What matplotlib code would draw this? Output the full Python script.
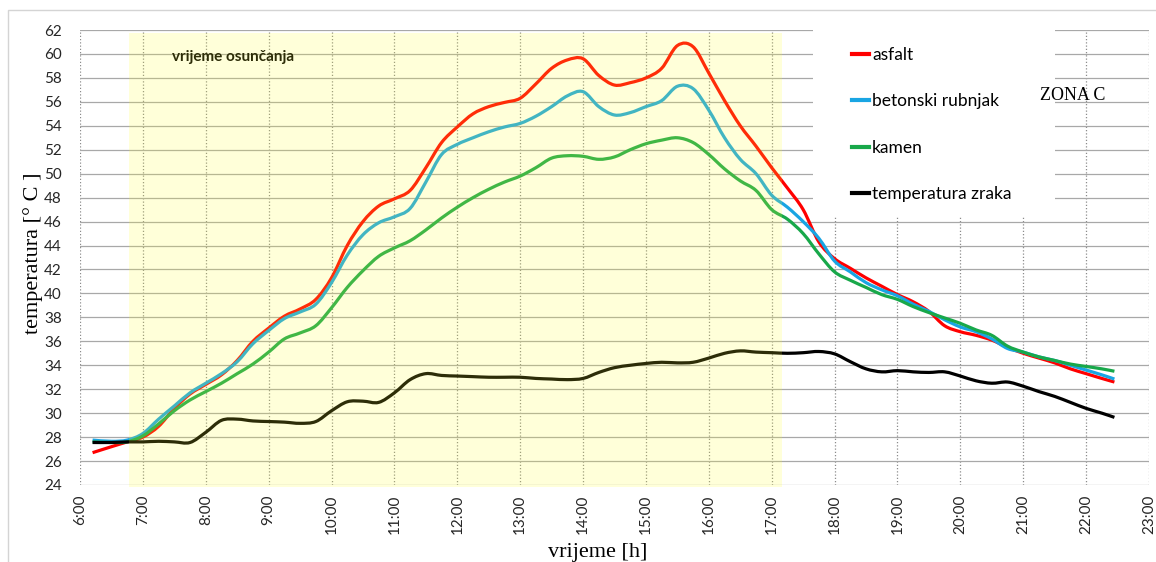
import numpy as np
import matplotlib
matplotlib.use("Agg")
import matplotlib.pyplot as plt
import matplotlib.patches as patches
from matplotlib.path import Path
from matplotlib.lines import Line2D

# time of measurement [h]
hours = [6.2, 6.5, 6.75, 7.0, 7.25, 7.5, 7.75, 8.0, 8.25, 8.5, 8.75, 9.0, 9.25, 9.5, 9.75,
         10.0, 10.25, 10.5, 10.75, 11.0, 11.25, 11.5, 11.75, 12.0, 12.25, 12.5, 12.75,
         13.0, 13.25, 13.5, 13.75, 14.0, 14.25, 14.5, 14.75, 15.0, 15.25, 15.5, 15.75,
         16.0, 16.25, 16.5, 16.75, 17.0, 17.25, 17.5, 17.75, 18.0, 18.25, 18.5, 18.75,
         19.0, 19.25, 19.5, 19.75, 20.0, 20.25, 20.5, 20.75, 21.0, 21.25, 21.5, 21.75,
         22.0, 22.25, 22.45]

asfalt = [26.7, 27.2, 27.6, 28.0, 28.9, 30.4, 31.6, 32.4, 33.2, 34.4, 36.0, 37.1, 38.1, 38.7, 39.5,
          41.3, 44.0, 46.0, 47.3, 47.9, 48.6, 50.5, 52.6, 53.9, 55.0, 55.6, 55.95,
          56.3, 57.5, 58.8, 59.5, 59.6, 58.2, 57.4, 57.6, 58.0, 58.8, 60.7, 60.6,
          58.4, 56.1, 54.0, 52.3, 50.5, 48.8, 47.0, 44.3, 42.9, 42.1, 41.3, 40.6,
          39.9, 39.3, 38.5, 37.3, 36.8, 36.5, 36.1, 35.5, 35.0, 34.6, 34.2, 33.7,
          33.3, 32.9, 32.6]

beton = [27.75, 27.65, 27.75, 28.3, 29.5, 30.6, 31.7, 32.5, 33.3, 34.3, 35.8, 36.9, 37.9, 38.45, 39.1,
         40.9, 43.2, 44.9, 45.9, 46.4, 47.1, 49.3, 51.6, 52.45, 53.0, 53.5, 53.9,
         54.2, 54.8, 55.6, 56.5, 56.85, 55.6, 54.9, 55.1, 55.6, 56.1, 57.3, 57.1,
         55.3, 53.0, 51.2, 50.0, 48.2, 47.2, 46.0, 44.6, 42.7, 41.8, 40.9, 40.3,
         39.8, 39.1, 38.5, 37.8, 37.2, 36.8, 36.2, 35.4, 35.1, 34.7, 34.4, 34.0,
         33.6, 33.2, 32.85]

kamen = [27.6, 27.55, 27.6, 28.1, 29.1, 30.2, 31.1, 31.8, 32.5, 33.3, 34.1, 35.1, 36.2, 36.7, 37.3,
         38.8, 40.5, 41.9, 43.1, 43.8, 44.4, 45.3, 46.3, 47.2, 48.0, 48.7, 49.3,
         49.8, 50.5, 51.3, 51.5, 51.45, 51.2, 51.4, 52.0, 52.5, 52.8, 53.0, 52.6,
         51.6, 50.4, 49.4, 48.6, 47.0, 46.2, 45.0, 43.3, 41.8, 41.1, 40.5, 39.9,
         39.5, 38.9, 38.4, 37.95, 37.5, 36.95, 36.5, 35.6, 35.1, 34.7, 34.4, 34.1,
         33.9, 33.7, 33.5]

zrak = [27.55, 27.55, 27.6, 27.6, 27.65, 27.6, 27.55, 28.4, 29.4, 29.5, 29.35, 29.3, 29.25, 29.15, 29.3,
        30.2, 30.95, 31.0, 30.9, 31.7, 32.8, 33.3, 33.15, 33.1, 33.05, 33.0, 33.0,
        33.0, 32.9, 32.85, 32.8, 32.9, 33.4, 33.8, 34.0, 34.15, 34.25, 34.2, 34.25,
        34.6, 35.0, 35.2, 35.1, 35.05, 35.0, 35.05, 35.15, 34.95, 34.3, 33.7, 33.45,
        33.55, 33.45, 33.4, 33.45, 33.1, 32.7, 32.5, 32.6, 32.25, 31.8, 31.4, 30.9,
        30.4, 30.0, 29.65]

series_labels = ["asfalt", "betonski rubnjak", "kamen", "temperatura zraka"]
series_colors = ["#ff0000", "#19a5e3", "#18a84a", "#000000"]

hour_ticks = list(range(6, 24))
temp_ticks = list(range(24, 63, 2))
sun_start, sun_end = 6.78, 17.16


def smooth_path(x, y):
    """Excel-like smoothed line: Catmull-Rom segments as cubic Bezier curves."""
    pts = np.column_stack([x, y])
    n = len(pts)
    verts = [pts[0]]
    codes = [Path.MOVETO]
    for i in range(n - 1):
        p0 = pts[max(i - 1, 0)]
        p1 = pts[i]
        p2 = pts[i + 1]
        p3 = pts[min(i + 2, n - 1)]
        verts += [p1 + (p2 - p0) / 6, p2 - (p3 - p1) / 6, p2]
        codes += [Path.CURVE4] * 3
    return Path(verts, codes)


W, H = 1156, 562
fig = plt.figure(figsize=(W / 100, H / 100), dpi=100)
ax = fig.add_axes([80 / W, 77 / H, 1069 / W, 455 / H])

# light frame around the whole chart
fig.patches.append(patches.Rectangle((8 / W, -0.2), 1.5, 1.2 - 10 / H, transform=fig.transFigure,
                                     fill=False, edgecolor="#d4d4d4", lw=1.0))

ax.set_xlim(6, 23)
ax.set_ylim(24, 62)
for s in ax.spines.values():
    s.set_visible(False)

ax.set_axisbelow(True)
ax.yaxis.grid(True, color="#a8a8a8", lw=0.9)
ax.xaxis.grid(True, color="#8c8c8c", lw=0.9, linestyle=(0, (1, 1.6)))

ax.set_xticks(hour_ticks)
ax.set_xticklabels([f"{h}:00" for h in hour_ticks], rotation=90, family="Lato", fontsize=11,
                   color="#262626")
ax.set_yticks(temp_ticks)
ax.set_yticklabels([str(t) for t in temp_ticks], family="Lato", fontsize=11, color="#262626")
ax.tick_params(axis="x", length=0, pad=7)
ax.tick_params(axis="y", length=0, pad=13)

ax.set_xlabel("vrijeme [h]", family="Liberation Serif", fontsize=16)
ax.xaxis.set_label_coords(0.484, -0.127)
ax.set_ylabel("temperatura [° C ]", family="Liberation Serif", fontsize=16)
ax.yaxis.set_label_coords(-0.0345, 0.51)

for vals, col in zip([asfalt, beton, kamen, zrak], series_colors):
    ax.add_patch(patches.PathPatch(smooth_path(hours, vals), fill=False, edgecolor=col, lw=2.3,
                                   capstyle="butt", joinstyle="round", zorder=3))

# sunshine period, semi-transparent yellow on top of the lines
ax.add_patch(patches.Rectangle((sun_start, 23.85), sun_end - sun_start, 61.75 - 23.85,
                               facecolor="#ffff30", alpha=0.18, edgecolor="none",
                               zorder=5, clip_on=False))
ax.text(7.46, 59.75, "vrijeme osunčanja", family="Lato", fontweight="bold", fontsize=11,
        color="#000000", va="center", ha="left", zorder=4)

# white legend area
ax.add_patch(patches.Rectangle((17.65, 46.5), 21.5 - 17.65, 62.2 - 46.5, facecolor="white",
                               edgecolor="none", zorder=2, clip_on=False))
handles = [Line2D([], [], color=c, lw=3) for c in series_colors]
ax.legend(handles, series_labels, loc="upper left", bbox_to_anchor=((852 - 80) / 1069, 0.963),
          frameon=False, borderpad=0, borderaxespad=0, handlelength=1.0, handletextpad=0.15,
          labelspacing=1.75, prop={"family": "Lato", "size": 12.5})

ax.text(21.79, 56.55, "ZONA C", family="Liberation Serif", fontsize=13, ha="center", va="center",
        zorder=6)

fig.savefig("out.png", dpi=100)
